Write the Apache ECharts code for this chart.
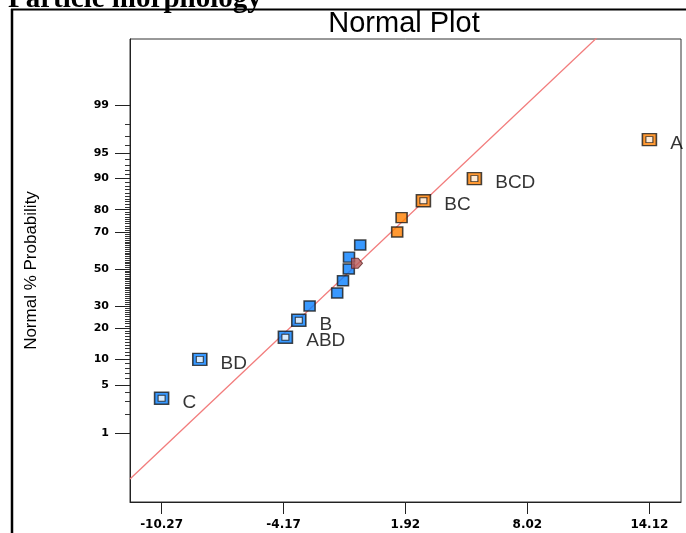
<!DOCTYPE html>
<html>
<head>
<meta charset="utf-8">
<script src="https://cdn.jsdelivr.net/npm/echarts@6/dist/echarts.min.js"></script>
<style>
html,body{margin:0;padding:0;background:#fff;}
#chart{width:686px;height:533px;}
</style>
</head>
<body>
<div id="chart"></div>
<script>
// ---- data ----
const xTickValues = [-10.27, -4.17, 1.92, 8.02, 14.12];
const yTickPercents = [1, 5, 10, 20, 30, 50, 70, 80, 90, 95, 99];

const labeledNames = ['C', 'BD', 'ABD', 'B', 'BC', 'BCD', 'A'];
const labeledEffects = [-10.27, -8.36, -4.08, -3.41, 2.82, 5.37, 14.12];
const labeledProbs = [3.33, 10, 16.67, 23.33, 83.33, 90, 96.67];

const plainEffects = [-2.87, -1.49, -1.20, -0.91, -0.90, -0.34, 1.51, 1.73];
const plainProbs = [30, 36.67, 43.33, 50, 56.67, 63.33, 70, 76.67];

const centerEffect = [-0.50];
const centerProb = [53.2];

// fitted line (normal): effect at 50% and spread
const fitMean = -0.74;
const fitSD = 3.73;

// ---- scale helpers ----
function probit(p) { // p in (0,1)
  const a = [-3.969683028665376e+01, 2.209460984245205e+02, -2.759285104469687e+02, 1.383577518672690e+02, -3.066479806614716e+01, 2.506628277459239e+00];
  const b = [-5.447609879822406e+01, 1.615858368580409e+02, -1.556989798598866e+02, 6.680131188771972e+01, -1.328068155288572e+01];
  const c = [-7.784894002430293e-03, -3.223964580411365e-01, -2.400758277161838e+00, -2.549732539343734e+00, 4.374664141464968e+00, 2.938163982698783e+00];
  const d = [7.784695709041462e-03, 3.224671290700398e-01, 2.445134137142996e+00, 3.754408661907416e+00];
  const pl = 0.02425, ph = 1 - pl;
  let q, r;
  if (p < pl) {
    q = Math.sqrt(-2 * Math.log(p));
    return (((((c[0]*q+c[1])*q+c[2])*q+c[3])*q+c[4])*q+c[5]) / ((((d[0]*q+d[1])*q+d[2])*q+d[3])*q+1);
  } else if (p <= ph) {
    q = p - 0.5; r = q * q;
    return (((((a[0]*r+a[1])*r+a[2])*r+a[3])*r+a[4])*r+a[5])*q / (((((b[0]*r+b[1])*r+b[2])*r+b[3])*r+b[4])*r+1);
  } else {
    q = Math.sqrt(-2 * Math.log(1 - p));
    return -(((((c[0]*q+c[1])*q+c[2])*q+c[3])*q+c[4])*q+c[5]) / ((((d[0]*q+d[1])*q+d[2])*q+d[3])*q+1);
  }
}
const zOf = pct => probit(pct / 100);

const X_MIN = -11.85, X_MAX = 15.70;
const Z_MIN = -3.305, Z_MAX = 3.262;

const majorZ = yTickPercents.map(zOf);
const minorPercents = [];
for (let p = 2; p <= 98; p++) if (yTickPercents.indexOf(p) < 0) minorPercents.push(p);
const minorZ = minorPercents.map(zOf);

const BLUE = '#0880ff', ORANGE = '#ff8000', EDGE = '#1a1a1a';

function pts(xs, ps, names) {
  return xs.map((x, i) => ({ value: [x, zOf(ps[i])], name: names ? names[i] : '' }));
}
const labeledPts = pts(labeledEffects, labeledProbs, labeledNames);
const plainPts = pts(plainEffects, plainProbs);
const colorOf = params => (params.value[0] < 0 ? BLUE : ORANGE);

const lineData = [X_MIN, X_MAX].map(x => [x, (x - fitMean) / fitSD]);

const chart = echarts.init(document.getElementById('chart'), null, { renderer: 'canvas' });
chart.setOption({
  animation: false,
  backgroundColor: '#fff',
  grid: { left: 130, top: 39, right: 5, bottom: 31, show: true, borderColor: '#333', borderWidth: 1, backgroundColor: '#fff' },
  graphic: [
    { type: 'text', x: 8, y: 14, style: { text: 'Particle morphology', font: 'bold 29px "Liberation Serif"', fill: '#000', verticalAlign: 'bottom' } },
    { type: 'line', shape: { x1: 11, y1: 9.5, x2: 686, y2: 9.5 }, style: { stroke: '#000', lineWidth: 2 } },
    { type: 'line', shape: { x1: 12, y1: 9, x2: 12, y2: 533 }, style: { stroke: '#000', lineWidth: 2.5 } },
    { type: 'text', x: 404, y: 24, style: { text: 'Normal Plot', font: '29px "Liberation Sans"', fill: '#000', align: 'center', verticalAlign: 'middle' } }
  ],
  xAxis: {
    type: 'value', min: X_MIN, max: X_MAX,
    splitLine: { show: false },
    axisLine: { onZero: false, lineStyle: { color: '#222', width: 1 } },
    axisTick: { customValues: xTickValues, length: 12, lineStyle: { color: '#222' } },
    axisLabel: {
      customValues: xTickValues, margin: 17,
      formatter: v => Number(v).toFixed(2),
      fontFamily: 'DejaVu Sans', fontWeight: 'bold', fontSize: 12, color: '#000'
    }
  },
  yAxis: [
    {
      type: 'value', min: Z_MIN, max: Z_MAX, position: 'left',
      name: 'Normal % Probability', nameLocation: 'middle', nameGap: 90, nameRotate: 90,
      nameTextStyle: { fontFamily: 'Liberation Sans', fontSize: 17, color: '#000' },
      splitLine: { show: false },
      axisLine: { onZero: false, lineStyle: { color: '#222', width: 1 } },
      axisTick: { customValues: majorZ, length: 15, lineStyle: { color: '#222' } },
      axisLabel: {
        customValues: majorZ, margin: 21,
        formatter: v => {
          let best = 0, bd = 1e9;
          majorZ.forEach((z, i) => { const d = Math.abs(z - v); if (d < bd) { bd = d; best = i; } });
          return String(yTickPercents[best]);
        },
        fontFamily: 'DejaVu Sans', fontWeight: 'bold', fontSize: 11, color: '#000'
      }
    },
    {
      type: 'value', min: Z_MIN, max: Z_MAX, position: 'left', offset: 0,
      splitLine: { show: false },
      axisLine: { show: false, onZero: false },
      axisTick: { customValues: minorZ, length: 5, lineStyle: { color: '#333' } },
      axisLabel: { show: false }
    }
  ],
  series: [
    {
      type: 'line', data: lineData, symbol: 'none', clip: true, silent: true,
      lineStyle: { color: '#f27c7c', width: 1.3 }, z: 1
    },
    {
      type: 'scatter', data: plainPts, symbol: 'rect', symbolSize: [11, 10], z: 3,
      itemStyle: { color: colorOf, borderColor: EDGE, borderWidth: 1.5 }
    },
    {
      type: 'scatter', data: labeledPts, symbol: 'rect', symbolSize: [14, 12], z: 3,
      itemStyle: { color: colorOf, borderColor: EDGE, borderWidth: 1.5 },
      label: {
        show: true, position: 'right', distance: 13, offset: [0, 4],
        formatter: p => p.name,
        fontFamily: 'Liberation Sans', fontSize: 19, color: '#000'
      }
    },
    {
      type: 'scatter', data: labeledPts, symbol: 'rect', symbolSize: [7, 6], z: 4, silent: true,
      itemStyle: { color: '#fff', borderColor: EDGE, borderWidth: 1 }
    },
    {
      type: 'scatter', data: pts(centerEffect, centerProb), z: 5,
      symbol: 'path://M0,0 L6,0 L10,5 L6,10 L0,10 Z', symbolSize: [11, 10],
      itemStyle: { color: '#b85a5a', borderColor: '#5a2020', borderWidth: 1 }
    }
  ]
});
</script>
</body>
</html>
